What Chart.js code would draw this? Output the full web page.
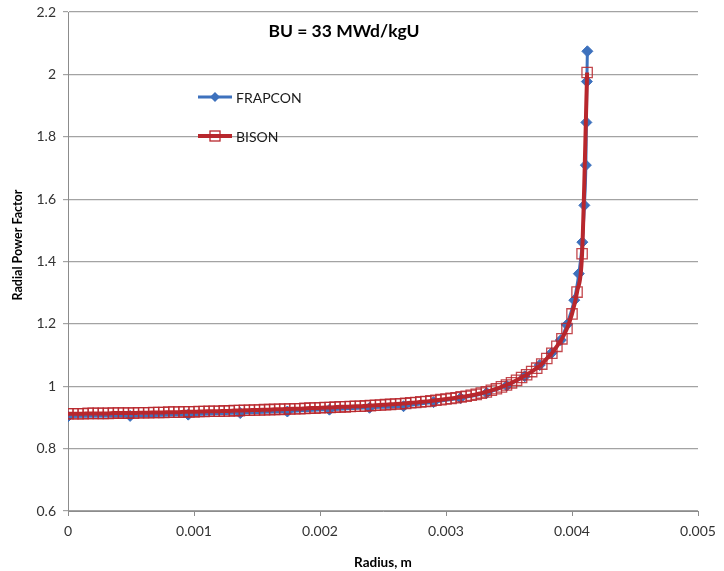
<!DOCTYPE html>
<html>
<head>
<meta charset="utf-8">
<script src="https://cdn.jsdelivr.net/npm/chart.js@4/dist/chart.umd.min.js"></script>
<style>
  html, body { margin: 0; padding: 0; background: #ffffff; }
  #wrap { width: 724px; height: 571px; }
</style>
</head>
<body>
<div id="wrap"><canvas id="c" width="724" height="571"></canvas></div>
<script>
// Radial power factor across the fuel pellet, burnup 33 MWd/kgU
const chartTitle = 'BU = 33 MWd/kgU';
const xAxisTitle = 'Radius, m';
const yAxisTitle = 'Radial Power Factor';
const xTicks = [0, 0.001, 0.002, 0.003, 0.004, 0.005];
const yTicks = [0.6, 0.8, 1, 1.2, 1.4, 1.6, 1.8, 2, 2.2];

// FRAPCON radial nodes (m) and power factor
const frapconRadius = [0, 0.000493, 0.000954, 0.001367, 0.001741, 0.002075, 0.002393, 0.002663,
  0.002901, 0.003116, 0.003323, 0.003482, 0.003625, 0.003744, 0.003839, 0.003911, 0.003959,
  0.004018, 0.004054, 0.004082, 0.004098, 0.004110, 0.004114, 0.004118, 0.004122];
const frapconRpf = [0.903, 0.905, 0.909, 0.914, 0.919, 0.925, 0.931, 0.936,
  0.949, 0.962, 0.979, 1.002, 1.032, 1.068, 1.107, 1.148, 1.197,
  1.276, 1.361, 1.462, 1.580, 1.709, 1.846, 1.977, 2.074];

// BISON mesh nodes (m) and power factor
const bisonRadius = [
  0, 0.00004, 0.00008, 0.00012, 0.00016, 0.0002, 0.00024, 0.00028, 0.00032, 0.00036,
  0.0004, 0.00044, 0.00048, 0.00052, 0.00056, 0.0006, 0.00064, 0.00068, 0.00072, 0.00076,
  0.0008, 0.00084, 0.00088, 0.00092, 0.00096, 0.001, 0.00104, 0.00108, 0.00112, 0.00116,
  0.0012, 0.00124, 0.00128, 0.00132, 0.00136, 0.0014, 0.00144, 0.00148, 0.00152, 0.00156,
  0.0016, 0.00164, 0.00168, 0.00172, 0.00176, 0.0018, 0.00184, 0.00188, 0.00192, 0.00196,
  0.002, 0.00204, 0.00208, 0.00212, 0.00216, 0.0022, 0.00224, 0.00228, 0.00232, 0.00236,
  0.0024, 0.00244, 0.00248, 0.00252, 0.00256, 0.0026, 0.00264, 0.00268, 0.00272, 0.00276,
  0.0028, 0.00284, 0.00288, 0.00292, 0.00296, 0.003, 0.00304, 0.00308, 0.00312, 0.00316,
  0.0032, 0.00324, 0.00328, 0.00332, 0.00336, 0.0034, 0.00344, 0.00348, 0.00352, 0.00356,
  0.0036, 0.00364, 0.00368, 0.00372, 0.00376, 0.0038, 0.00384, 0.00388, 0.00392, 0.00396,
  0.004, 0.00404, 0.00408, 0.00412];
const bisonRpf = [
  0.912, 0.912, 0.912, 0.912, 0.913, 0.913, 0.913, 0.913, 0.913, 0.914,
  0.914, 0.914, 0.914, 0.914, 0.915, 0.915, 0.915, 0.916, 0.916, 0.916,
  0.917, 0.917, 0.917, 0.918, 0.918, 0.918, 0.919, 0.919, 0.920, 0.920,
  0.920, 0.921, 0.921, 0.922, 0.922, 0.923, 0.923, 0.924, 0.924, 0.925,
  0.925, 0.926, 0.926, 0.927, 0.927, 0.928, 0.928, 0.929, 0.930, 0.930,
  0.931, 0.932, 0.932, 0.933, 0.934, 0.934, 0.935, 0.936, 0.936, 0.937,
  0.938, 0.939, 0.940, 0.941, 0.942, 0.943, 0.944, 0.945, 0.947, 0.948,
  0.950, 0.951, 0.953, 0.955, 0.957, 0.959, 0.961, 0.963, 0.966, 0.968,
  0.971, 0.974, 0.978, 0.982, 0.987, 0.992, 0.998, 1.004, 1.011, 1.019,
  1.028, 1.037, 1.047, 1.058, 1.071, 1.089, 1.106, 1.128, 1.152, 1.185,
  1.232, 1.302, 1.425, 2.006];

const BLUE = '#3d71bd';
const RED = '#b8272d';
const FONT = 'Lato, "Liberation Sans", sans-serif';

const toPoints = (xs, ys) => xs.map((x, i) => ({ x: x, y: ys[i] }));

// Title, y-axis caption and in-plot legend
const overlay = {
  id: 'overlay',
  afterDraw(chart) {
    const ctx = chart.ctx;
    ctx.save();
    ctx.fillStyle = '#000000';
    ctx.font = 'bold 17.5px ' + FONT;
    ctx.textAlign = 'center';
    ctx.textBaseline = 'middle';
    ctx.fillText(chartTitle, 344, 31);

    ctx.save();
    ctx.translate(18, 245);
    ctx.rotate(-Math.PI / 2);
    ctx.font = 'bold 12.5px ' + FONT;
    ctx.fillText(yAxisTitle, 0, 0);
    ctx.restore();

    const entries = [
      { label: 'FRAPCON', color: BLUE, y: 97, marker: 'diamond' },
      { label: 'BISON', color: RED, y: 136, marker: 'square' }
    ];
    entries.forEach(e => {
      ctx.strokeStyle = e.color;
      ctx.lineWidth = e.marker === 'square' ? 4 : 3;
      ctx.beginPath();
      ctx.moveTo(198, e.y);
      ctx.lineTo(232, e.y);
      ctx.stroke();
      if (e.marker === 'diamond') {
        ctx.fillStyle = e.color;
        ctx.beginPath();
        ctx.moveTo(215, e.y - 5);
        ctx.lineTo(220, e.y);
        ctx.lineTo(215, e.y + 5);
        ctx.lineTo(210, e.y);
        ctx.closePath();
        ctx.fill();
      } else {
        ctx.lineWidth = 1.3;
        ctx.strokeRect(210, e.y - 5, 10, 10);
      }
      ctx.fillStyle = '#1a1a1a';
      ctx.font = '14px ' + FONT;
      ctx.textAlign = 'left';
      ctx.fillText(e.label, 236, e.y + 1);
    });
    ctx.restore();
  }
};

new Chart(document.getElementById('c'), {
  type: 'scatter',
  data: {
    datasets: [
      {
        label: 'FRAPCON',
        data: toPoints(frapconRadius, frapconRpf),
        showLine: true,
        cubicInterpolationMode: 'monotone',
        borderColor: BLUE,
        borderWidth: 3,
        backgroundColor: BLUE,
        pointStyle: 'rectRot',
        pointRadius: 5.5,
        pointBorderWidth: 1,
        pointBorderColor: BLUE,
        pointBackgroundColor: BLUE,
        order: 2
      },
      {
        label: 'BISON',
        data: toPoints(bisonRadius, bisonRpf),
        showLine: true,
        cubicInterpolationMode: 'monotone',
        borderColor: RED,
        borderWidth: 4,
        backgroundColor: 'rgba(0,0,0,0)',
        pointStyle: 'rect',
        pointRadius: 7.3,
        pointBorderWidth: 1.3,
        pointBorderColor: 'rgba(184,39,45,0.85)',
        pointBackgroundColor: 'rgba(0,0,0,0)',
        order: 1
      }
    ]
  },
  options: {
    responsive: false,
    animation: false,
    devicePixelRatio: 1,
    layout: { padding: { top: 12, right: 26, left: 0, bottom: 0 } },
    plugins: {
      legend: { display: false },
      tooltip: { enabled: false },
      title: { display: false }
    },
    scales: {
      x: {
        type: 'linear',
        min: 0,
        max: 0.005,
        afterFit(scale) { scale.height = 60; },
        afterBuildTicks(scale) { scale.ticks = xTicks.map(v => ({ value: v })); },
        ticks: {
          padding: 7,
          color: '#333333',
          font: { family: FONT, size: 14 },
          callback: v => String(v)
        },
        grid: { drawOnChartArea: false, drawTicks: true, tickLength: 5, color: '#8c8c8c' },
        border: { display: true, color: '#8c8c8c', width: 1 },
        title: {
          display: true,
          text: xAxisTitle,
          color: '#000000',
          font: { family: FONT, size: 13.5, weight: 'bold' },
          padding: { top: 3, bottom: 0 }
        }
      },
      y: {
        type: 'linear',
        min: 0.6,
        max: 2.2,
        afterFit(scale) {
          scale.width = 68;
          scale.paddingTop = 0;
          scale.paddingBottom = 0;
        },
        afterBuildTicks(scale) { scale.ticks = yTicks.map(v => ({ value: v })); },
        ticks: {
          padding: 7,
          color: '#333333',
          font: { family: FONT, size: 14 },
          callback: v => String(v)
        },
        grid: { color: '#a3a3a3', lineWidth: 1.2, tickLength: 5 },
        border: { display: true, color: '#8c8c8c', width: 1 }
      }
    }
  },
  plugins: [overlay]
});
</script>
</body>
</html>
